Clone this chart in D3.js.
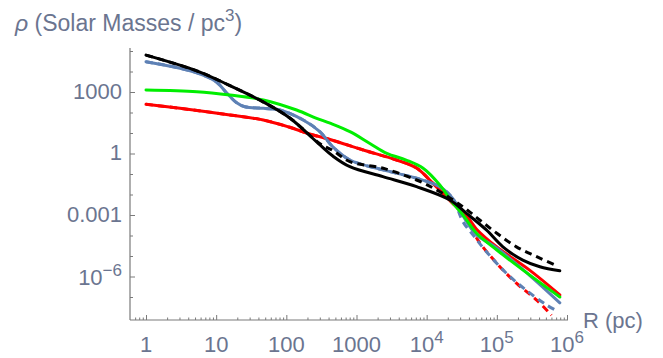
<!DOCTYPE html>
<html><head><meta charset="utf-8">
<script src="https://cdn.jsdelivr.net/npm/d3@7/dist/d3.min.js"></script>
<style>
body{margin:0;background:#fff;}
text{font-family:"Liberation Sans",Arial,sans-serif;}
</style></head>
<body><svg id="c" width="663" height="358"></svg>
<script>
// ---- data (R in pc, rho in solar masses / pc^3) ----
const blackSolidR   = [1, 5.4, 15.7, 46, 112, 302, 460, 805, 2380, 7180, 2.14e4, 3.7e4, 7.1e4, 1.22e5, 2.34e5, 4.1e5, 7.9e5];
const blackSolidRho = [6.3e4, 1.05e4, 2050, 340, 54, 2.6, 0.75, 0.227, 0.074, 0.024, 0.0054, 0.0012, 1.86e-4, 2.8e-5, 6.3e-6, 3.0e-6, 1.9e-6];

const blackDashR   = [1, 5.4, 15.7, 46, 112, 302, 460, 805, 2400, 7180, 1.54e4, 3.3e4, 5.7e4, 1.0e5, 1.9e5, 3.7e5, 7.4e5];
const blackDashRho = [6.3e4, 1.05e4, 2050, 340, 54, 3.0, 1.4, 0.40, 0.19, 0.051, 0.0137, 0.0025, 5.7e-4, 1.28e-4, 2.8e-5, 9.3e-6, 3.2e-6];

const blueSolidR   = [1, 3.05, 6.5, 10.2, 14.1, 19.6, 25.7, 47, 81, 174, 300, 460, 805, 2380, 7180, 1.54e4, 2.35e4, 3.3e4, 5.1e4, 1.0e5, 2.9e5, 7.9e5];
const blueSolidRho = [3.0e4, 1.44e4, 6700, 3000, 900, 300, 190, 160, 132, 43, 11.6, 2.1, 0.48, 0.158, 0.062, 0.024, 0.0065, 9.0e-4, 1.1e-4, 2.45e-5, 1.18e-6, 5.2e-8];

const blueDashR   = [1, 3.05, 6.5, 10.2, 14.1, 19.6, 25.7, 47, 81, 174, 300, 460, 805, 2380, 7180, 1.54e4, 2.35e4, 3.3e4, 4.6e4, 7.1e4, 1.37e5, 2.6e5, 5.1e5, 7.2e5];
const blueDashRho = [3.0e4, 1.44e4, 6700, 3000, 900, 300, 190, 160, 132, 43, 11.6, 2.1, 0.48, 0.158, 0.062, 0.024, 0.0065, 4.6e-4, 1.05e-4, 1.62e-5, 1.44e-6, 2.2e-7, 4.1e-8, 2.1e-8];

const redSolidR   = [1, 3.05, 15.7, 47, 112, 216, 420, 1250, 3730, 7180, 1.23e4, 1.9e4, 2.97e4, 4.1e4, 5.1e4, 1.0e5, 2.9e5, 7.9e5];
const redSolidRho = [250, 160, 76, 43, 19, 8.9, 4.8, 1.48, 0.48, 0.196, 0.035, 0.0078, 0.0017, 5.7e-4, 2.1e-4, 2.75e-5, 2.1e-6, 1.26e-7];

const redDashR   = [1, 3.05, 15.7, 47, 112, 216, 420, 1250, 3730, 7180, 1.23e4, 1.9e4, 2.97e4, 4.1e4, 5.1e4, 1.0e5, 1.9e5, 3.7e5, 6.0e5];
const redDashRho = [250, 160, 76, 43, 19, 8.9, 4.8, 1.48, 0.48, 0.196, 0.035, 0.0078, 0.0017, 5.7e-4, 8.0e-5, 4.4e-6, 4.7e-7, 7.1e-8, 1.3e-8];

const greenR   = [1, 5.3, 15.7, 47, 140, 270, 420, 805, 1550, 2700, 5100, 8900, 1.54e4, 2.35e4, 3.3e4, 5.1e4, 1.0e5, 2.34e5, 7.9e5];
const greenRho = [1250, 1030, 710, 410, 132, 52, 30, 11.6, 3.1, 1.02, 0.48, 0.19, 0.029, 0.0039, 0.001, 1.32e-4, 1.96e-5, 2.1e-6, 1.0e-7];

const xTicks = [1, 10, 100, 1000, 1e4, 1e5, 1e6];
const xTickBase = ["1", "10", "100", "1000", "10", "10", "10"];
const xTickSup  = ["", "", "", "", "4", "5", "6"];
const yTicks = [1e3, 1, 1e-3, 1e-6];
const yTickBase = ["1000", "1", "0.001", "10"];
const yTickSup  = ["", "", "", "\u22126"];

// ---- drawing ----
const svg = d3.select("#c");
const labelColor = "#6b7590";
const axisColor = "#7a7a7a";

const x = d3.scaleLog().domain([1, 1e6]).range([146, 567]);
const y = d3.scaleLog().domain([1e-6, 1e3]).range([276.5, 92]);
const axX0 = 130, axX1 = 568, axY0 = 320, axY1 = 48;

// minor ticks
const xMinor = [];
for (let d = -1; d <= 5; d++) for (let k = 2; k <= 9; k++) {
  const v = k * Math.pow(10, d);
  if (x(v) >= axX0 + 3 && x(v) <= axX1) xMinor.push(v);
}
const yMinor = [];
for (let d = -7; d <= 5; d++) { const v = Math.pow(10, d); if (!yTicks.includes(v)) yMinor.push(v); }

// x axis
const gx = svg.append("g").attr("transform", `translate(0,${axY0})`);
gx.append("g").call(d3.axisBottom(x).tickValues(xMinor).tickSize(-2.5).tickFormat("").tickSizeOuter(0));
gx.append("g").call(d3.axisBottom(x).tickValues(xTicks).tickSize(-5).tickFormat("").tickSizeOuter(0));
gx.selectAll(".domain").remove();
gx.selectAll("line").attr("stroke", axisColor);
gx.append("line").attr("x1", axX0).attr("x2", axX1).attr("stroke", axisColor).attr("stroke-width", 1.2);

// y axis
const gy = svg.append("g").attr("transform", `translate(${axX0},0)`);
gy.append("g").call(d3.axisLeft(y).tickValues(yMinor).tickSize(-3).tickFormat("").tickSizeOuter(0));
gy.append("g").call(d3.axisLeft(y).tickValues(yTicks).tickSize(-5).tickFormat("").tickSizeOuter(0));
gy.selectAll(".domain").remove();
gy.selectAll("line").attr("stroke", axisColor);
gy.append("line").attr("y1", axY0).attr("y2", axY1).attr("stroke", axisColor).attr("stroke-width", 1.2);

// x tick labels
xTicks.forEach((v, i) => {
  const t = svg.append("text").attr("x", x(v)).attr("y", 351.5).attr("text-anchor", "middle")
    .attr("font-size", 22).attr("fill", labelColor);
  t.append("tspan").text(xTickBase[i]);
  if (xTickSup[i]) t.append("tspan").attr("font-size", 17).attr("dy", -9).text(xTickSup[i]);
});
// y tick labels
yTicks.forEach((v, i) => {
  const t = svg.append("text").attr("x", 122).attr("y", y(v) + (yTickSup[i] ? 8.5 : 6.5)).attr("text-anchor", "end")
    .attr("font-size", 22).attr("fill", labelColor);
  t.append("tspan").text(yTickBase[i]);
  if (yTickSup[i]) t.append("tspan").attr("font-size", 17).attr("dy", -9).text(yTickSup[i]);
});

// axis titles
const yt = svg.append("text").attr("x", 15).attr("y", 31).attr("font-size", 23).attr("fill", labelColor);
yt.append("tspan").attr("font-style", "italic").text("\u03C1");
yt.append("tspan").text(" (Solar Masses / pc");
yt.append("tspan").attr("font-size", 17).attr("dy", -10).text("3");
yt.append("tspan").attr("dy", 10).text(")");
svg.append("text").attr("x", 583).attr("y", 328).attr("font-size", 22).attr("fill", labelColor).text("R (pc)");

// curves
const line = d3.line().x(d => x(d[0])).y(d => y(d[1])).curve(d3.curveCatmullRom.alpha(0.5));
const series = [
  {R: redSolidR, rho: redSolidRho, color: "#ff0000", dash: null},
  {R: redDashR, rho: redDashRho, color: "#ff0000", dash: "7,5"},
  {R: blueDashR, rho: blueDashRho, color: "#5e81b5", dash: "7,5"},
  {R: blueSolidR, rho: blueSolidRho, color: "#5e81b5", dash: null},
  {R: greenR, rho: greenRho, color: "#00ee00", dash: null},
  {R: blackSolidR, rho: blackSolidRho, color: "#000000", dash: null},
  {R: blackDashR, rho: blackDashRho, color: "#000000", dash: "7,5"}
];
series.forEach(s => {
  svg.append("path").datum(s.R.map((r, i) => [r, s.rho[i]]))
    .attr("d", line).attr("fill", "none").attr("stroke", s.color)
    .attr("stroke-width", 3).attr("stroke-dasharray", s.dash)
    .attr("stroke-linecap", s.dash ? "butt" : "round").attr("stroke-linejoin", "round");
});
</script></body></html>
